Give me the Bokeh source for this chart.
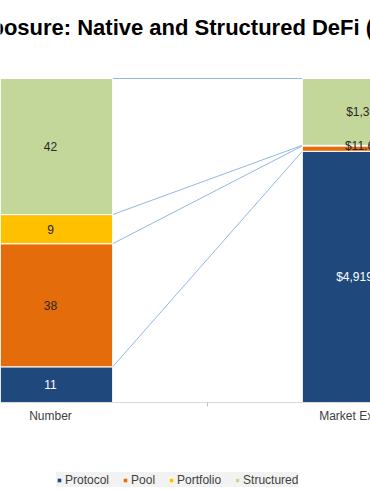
from bokeh.plotting import figure
from bokeh.models import FixedTicker, Legend, LegendItem, Label, ColumnDataSource
from bokeh.core.properties import value
from bokeh.embed import file_html
from bokeh.resources import INLINE

categories = ["Number", "Market Exposure"]
series = ["Protocol", "Pool", "Portfolio", "Structured"]
number_counts = [11, 38, 9, 42]
market_usd_m = [4919.4, 104.9, 11.6, 1309.0]
number_labels = ["11", "38", "9", "42"]
market_labels = ["$4,919.4M", "", "$11.6M", "$1,309"]
colors = ["#1F497D", "#E46C0A", "#FFC000", "#C4D79B"]
label_colors = ["#FFFFFF", "#262626", "#262626", "#262626"]
title_text = "Market Exposure: Native and Structured DeFi (USD)"

FONT = "Liberation Sans"
BAR_W = 0.396
cat_x = list(range(len(categories)))


def pct(vals):
    tot = float(sum(vals))
    return [v / tot * 100.0 for v in vals]


num_pct = pct(number_counts)
mkt_pct = pct(market_usd_m)

# the frame covers the whole canvas; 0..100 % spans the bar area
p = figure(width=370, height=490, output_backend="svg", toolbar_location=None,
           x_range=(-0.1592, 1.0191), y_range=(-27.16, 124.07),
           min_border_left=0, min_border_right=0, min_border_top=0,
           min_border_bottom=0)
p.outline_line_color = None
p.grid.visible = False
p.yaxis.visible = False

p.add_layout(Label(x=-114, y=463, x_units="screen", y_units="screen",
                   text=title_text, text_font=FONT, text_font_size="22px",
                   text_font_style="bold", text_color="#000000",
                   text_align="left", text_baseline="alphabetic"))

# series lines
cum_n, cum_m = [], []
sn = sm = 0.0
for a, b in zip(num_pct, mkt_pct):
    sn += a
    sm += b
    cum_n.append(sn)
    cum_m.append(sm)
p.segment(x0=[cat_x[0] + BAR_W / 2] * len(series), y0=cum_n,
          x1=[cat_x[1] - BAR_W / 2] * len(series), y1=cum_m,
          line_color="#92B8E4", line_width=1)

data = {"x": cat_x}
for i, s in enumerate(series):
    data[s] = [num_pct[i], mkt_pct[i]]
src = ColumnDataSource(data)
rs = p.vbar_stack(series, x="x", width=BAR_W, source=src, color=colors,
                  line_color="#FFFFFF", line_width=1)

# data labels
tx, ty, tt, tc = [], [], [], []
prev_n = prev_m = 0.0
for i in range(len(series)):
    tx.append(cat_x[0]); ty.append((prev_n + cum_n[i]) / 2); tt.append(number_labels[i]); tc.append(label_colors[i])
    if market_labels[i]:
        tx.append(cat_x[1]); ty.append((prev_m + cum_m[i]) / 2); tt.append(market_labels[i]); tc.append(label_colors[i])
    prev_n, prev_m = cum_n[i], cum_m[i]
p.text(x=tx, y=ty, text=tt, text_color=tc, text_align="center",
       text_baseline="middle", text_font=value(FONT), text_font_size="12px")

ax = p.xaxis[0]
ax.fixed_location = 0
ax.ticker = FixedTicker(ticks=cat_x, minor_ticks=[0.5])
ax.major_label_overrides = {0: "", 1: ""}
ax.major_tick_line_color = None
ax.major_tick_out = 0
ax.major_tick_in = 0
ax.minor_tick_line_color = "#BFBFBF"
ax.minor_tick_out = 4
ax.minor_tick_in = 0
ax.axis_line_color = "#D9D9D9"

# category labels, centred under each bar (allowed to run off the edge)
p.text(x=cat_x, y=[0] * len(cat_x), text=categories, y_offset=14,
       text_align="center", text_baseline="middle", text_font=value(FONT),
       text_font_size="12px", text_color="#404040")

legend = Legend(items=[LegendItem(label=s, renderers=[r]) for s, r in zip(series, rs)],
                orientation="horizontal", location=(56, 3),
                background_fill_color="#F2F2F2", background_fill_alpha=1.0,
                border_line_color=None, glyph_width=6, glyph_height=6,
                label_standoff=3, spacing=13, padding=3, margin=0,
                label_text_font=FONT, label_text_font_size="12px",
                label_text_color="#404040", label_height=15)
p.add_layout(legend, "center")

open("out.html", "w").write(file_html(p, INLINE))
